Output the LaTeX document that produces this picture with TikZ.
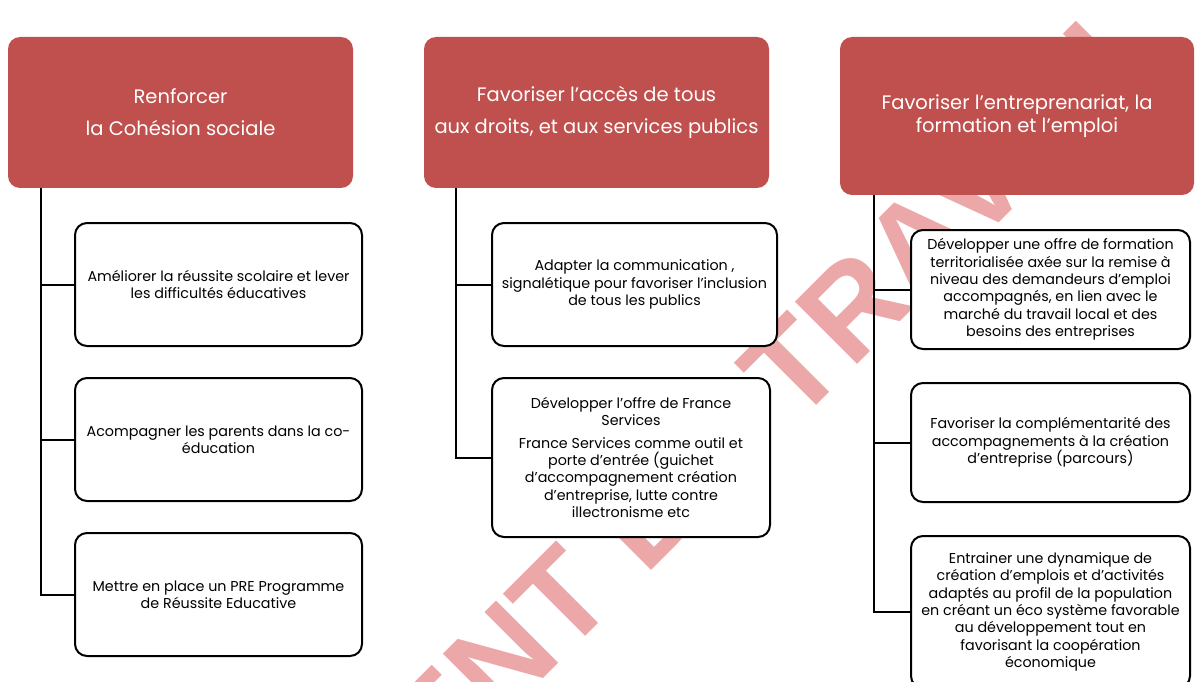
\documentclass[tikz,border=0pt]{standalone}
\usepackage{fontspec}
\setmainfont{Poppins}
\newfontfamily\markfont{Liberation Sans}
\definecolor{headred}{RGB}{192,80,77}
\definecolor{markred}{RGB}{236,168,168}

\begin{document}
\begin{tikzpicture}[
      x=1pt, y=-1pt,
      head/.style ={fill=headred, rounded corners=12pt, text=white, align=center, inner sep=0pt,
                    font=\fontsize{19.5}{32}\selectfont},
      item/.style ={draw=black, line width=2pt, fill=white, rounded corners=12pt, align=center,
                    inner sep=0pt, font=\fontsize{14.3}{17.4}\selectfont},
      link/.style ={line width=2pt}]
    \useasboundingbox (0,0) rectangle (1195,682);
    \clip (0,0) rectangle (1195,682);

    % watermark behind everything
    \node[rotate=45, anchor=base, text=markred, font=\markfont\bfseries\fontsize{128}{128}\selectfont]
      (mark) at (636,586) {DOCUMENT DE TRAVAIL};

    % column 1
    \node[head, minimum width=345, minimum height=151] (h1) at (180.5,112.5) {Renforcer\\ la Cohésion sociale};
    \node[item, minimum width=287, minimum height=123] (c11) at (218.5,284.5) {Améliorer la réussite scolaire et lever\\ les difficultés éducatives};
    \node[item, minimum width=287, minimum height=123] (c12) at (218.5,439.5) {Acompagner les parents dans la co-\\éducation};
    \node[item, minimum width=287, minimum height=123] (c13) at (218.5,594.5) {Mettre en place un PRE Programme\\ de Réussite Educative};
    \coordinate (t1) at (41,188);
    \draw[link] (t1) |- (c11.west);
    \draw[link] (t1) |- (c12.west);
    \draw[link] (t1) |- (c13.west);

    % column 2
    \node[head, minimum width=345, minimum height=151] (h2) at (596.5,112.5) {Favoriser l'accès de tous\\ aux droits, et aux services publics};
    \node[item, minimum width=285, minimum height=123] (c21) at (634.5,284.5) {Adapter la communication ,\\ signalétique pour favoriser l'inclusion\\ de tous les publics};
    \node[item, minimum width=278, minimum height=159] (c22) at (631,457.5) {Développer l'offre de France\\ Services\\[5pt] France Services comme outil et\\ porte d'entrée (guichet\\ d'accompagnement création\\ d'entreprise, lutte contre\\ illectronisme etc};
    \coordinate (t2) at (456,188);
    \draw[link] (t2) |- (c21.west);
    \draw[link] (t2) |- (c22.west);

    % column 3
    \node[head, minimum width=354, minimum height=158, font=\fontsize{19.5}{23}\selectfont] (h3) at (1017,116) {Favoriser l'entreprenariat, la\\ formation et l'emploi};
    \node[item, minimum width=279, minimum height=119] (c31) at (1050.5,289.5) {Développer une offre de formation\\ territorialisée axée sur la remise à\\ niveau des demandeurs d'emploi\\ accompagnés, en lien avec le\\ marché du travail local et des\\ besoins des entreprises};
    \node[item, minimum width=279, minimum height=119] (c32) at (1050.5,442.5) {Favoriser la complémentarité des\\ accompagnements à la création\\ d'entreprise (parcours)};
    \node[item, minimum width=279, minimum height=152] (c33) at (1050.5,612) {Entrainer une dynamique de\\ création d'emplois et d'activités\\ adaptés au profil de la population\\ en créant un éco système favorable\\ au développement tout en\\ favorisant la coopération\\ économique};
    \coordinate (t3) at (874,195);
    \draw[link] (t3) |- (c31.west);
    \draw[link] (t3) |- (c32.west);
    \draw[link] (t3) |- (c33.west);
\end{tikzpicture}
\end{document}
